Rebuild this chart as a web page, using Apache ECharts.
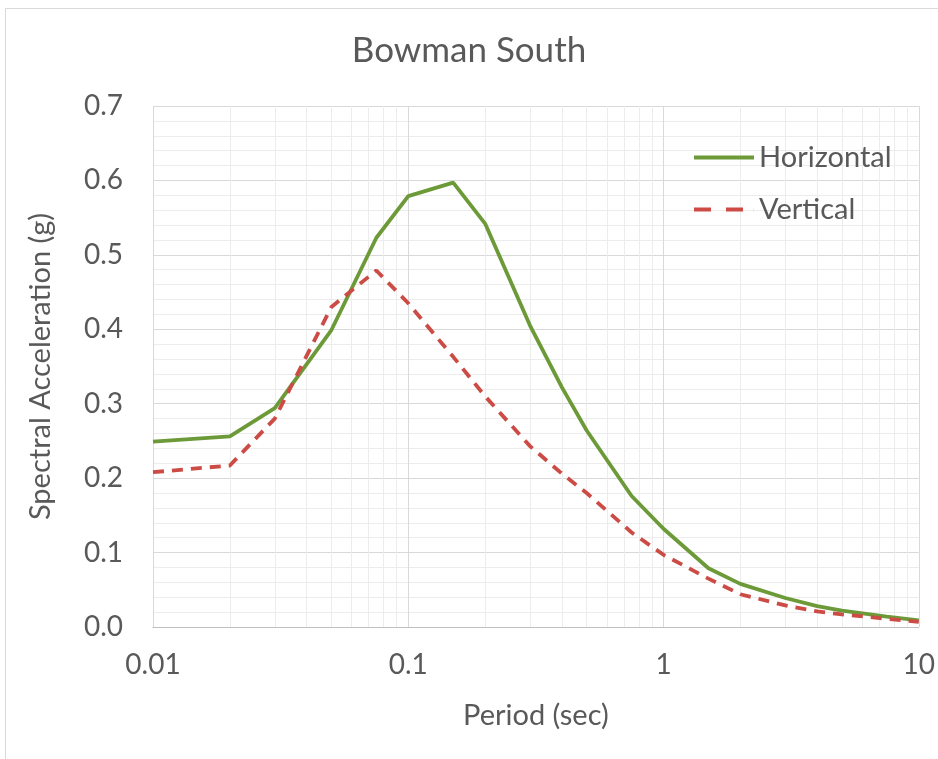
<!DOCTYPE html>
<html>
<head>
<meta charset="utf-8">
<script src="https://cdn.jsdelivr.net/npm/echarts@6/dist/echarts.min.js"></script>
<style>
  html, body { margin: 0; padding: 0; background: #fff; }
  #chart { width: 938px; height: 759px; }
</style>
</head>
<body>
<div id="chart"></div>
<script>
// periods (sec)
var periods = [0.01, 0.02, 0.03, 0.05, 0.075, 0.1, 0.15, 0.2, 0.3, 0.4, 0.5, 0.75, 1, 1.5, 2, 3, 4, 5, 7.5, 10];
var horizontal = [0.249, 0.256, 0.294, 0.399, 0.523, 0.579, 0.597, 0.542, 0.405, 0.322, 0.264, 0.176, 0.132, 0.079, 0.058, 0.039, 0.028, 0.022, 0.014, 0.009];
var vertical = [0.208, 0.217, 0.28, 0.43, 0.479, 0.435, 0.363, 0.31, 0.243, 0.206, 0.18, 0.127, 0.097, 0.065, 0.044, 0.029, 0.021, 0.017, 0.011, 0.007];
// minor log gridlines
var minorX = [0.02, 0.03, 0.04, 0.05, 0.06, 0.07, 0.08, 0.09,
              0.2, 0.3, 0.4, 0.5, 0.6, 0.7, 0.8, 0.9,
              2, 3, 4, 5, 6, 7, 8, 9];

function pairs(ys) {
  return periods.map(function (p, i) { return [p, ys[i]]; });
}

var txt = '#595959';
var font = 'Lato, "Open Sans", sans-serif';
var green = '#6d9a38';
var red = '#cc4b45';

var chart = echarts.init(document.getElementById('chart'));
chart.setOption({
  animation: false,
  backgroundColor: '#fff',
  textStyle: { fontFamily: font },
  title: {
    text: 'Bowman South',
    left: 'center',
    top: 28,
    textStyle: { fontSize: 35, fontWeight: 'normal', color: txt, fontFamily: font }
  },
  graphic: [{
    type: 'rect',
    shape: { x: 5.5, y: 8.5, width: 960, height: 800 },
    style: { fill: 'none', stroke: '#d9d9d9', lineWidth: 1 },
    silent: true
  }],
  legend: {
    orient: 'vertical',
    left: 689,
    top: 138,
    itemWidth: 60,
    itemHeight: 4,
    itemGap: 23,
    textStyle: { fontSize: 29, color: txt, fontFamily: font },
    data: [
      { name: 'Horizontal', icon: 'path://M0,0h60v4h-60z' },
      { name: 'Vertical', icon: 'path://M0,0h17v4h-17z M32,0h17v4h-17z M59.9,0h0.1v4h-0.1z' }
    ]
  },
  grid: { left: 153, right: 19, top: 106, bottom: 132 },
  xAxis: {
    type: 'log',
    logBase: 10,
    min: 0.01,
    max: 10,
    name: 'Period (sec)',
    nameLocation: 'middle',
    nameGap: 74,
    nameTextStyle: { fontSize: 29, color: txt, fontFamily: font },
    axisLine: { lineStyle: { color: '#bfbfbf', width: 1 } },
    axisTick: { show: false },
    axisLabel: {
      fontSize: 28, color: txt, margin: 24, fontFamily: font,
      formatter: function (v) { return String(v); }
    },
    splitLine: { show: true, lineStyle: { color: '#d9d9d9', width: 1 } }
  },
  yAxis: {
    type: 'value',
    min: 0,
    max: 0.7,
    interval: 0.1,
    name: 'Spectral Acceleration (g)',
    nameLocation: 'middle',
    nameGap: 98,
    nameTextStyle: { fontSize: 29, color: txt, fontFamily: font },
    axisLine: { show: false },
    axisTick: { show: false },
    axisLabel: {
      fontSize: 28, color: txt, margin: 30, fontFamily: font,
      formatter: function (v) { return v.toFixed(1); }
    },
    splitLine: { show: true, lineStyle: { color: '#d9d9d9', width: 1 } },
    minorTick: { show: false, splitNumber: 5 },
    minorSplitLine: { show: true, lineStyle: { color: '#ececec', width: 1 } }
  },
  series: [
    {
      name: 'minor',
      type: 'line',
      data: [],
      z: 1,
      silent: true,
      markLine: {
        z: 1,
        silent: true,
        symbol: ['none', 'none'],
        label: { show: false },
        lineStyle: { color: '#ececec', width: 1, type: 'solid' },
        data: minorX.map(function (v) { return { xAxis: v }; })
      }
    },
    {
      name: 'Horizontal',
      type: 'line',
      data: pairs(horizontal),
      symbol: 'none',
      z: 6,
      itemStyle: { color: green },
      lineStyle: { color: green, width: 3.8 }
    },
    {
      name: 'Vertical',
      type: 'line',
      data: pairs(vertical),
      symbol: 'none',
      z: 7,
      itemStyle: { color: red },
      lineStyle: { color: red, width: 3.8, type: [11, 8] }
    }
  ]
});
</script>
</body>
</html>
